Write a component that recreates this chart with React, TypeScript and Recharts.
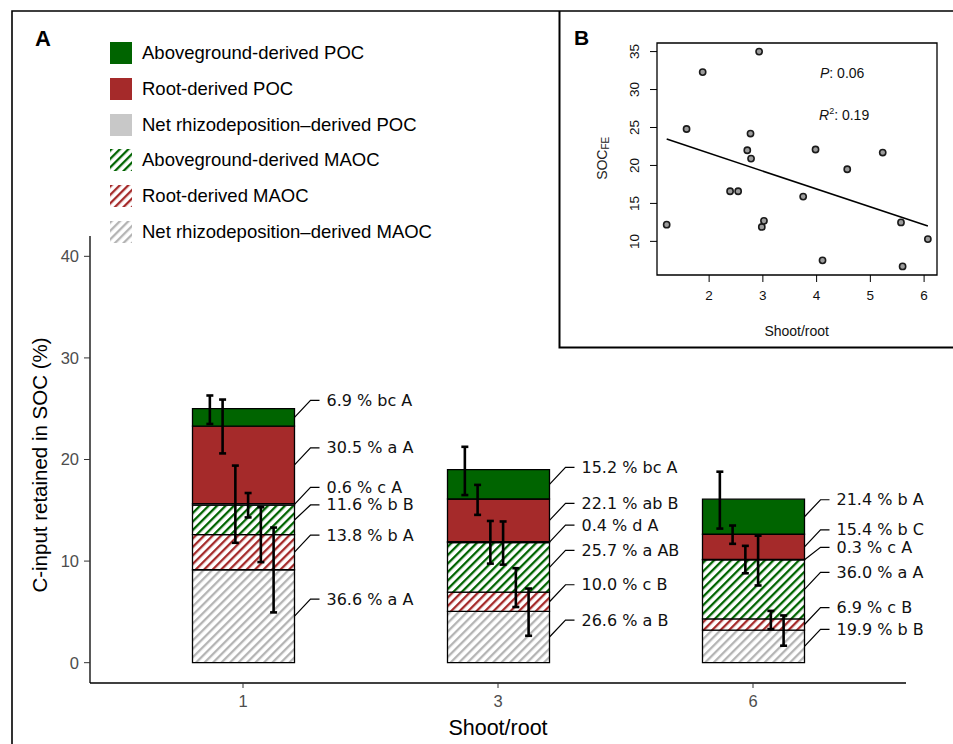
import React from "react";
import {
  ComposedChart,
  ScatterChart,
  Bar,
  Scatter,
  XAxis,
  YAxis,
  ErrorBar,
  LabelList,
  ReferenceLine,
  ReferenceArea,
} from "recharts";

// ── Panel A data ────────────────────────────────────────────────

const SHOOT_ROOT = ["1", "3", "6"];

// segment heights (% C-input retained), one value per shoot/root level
const ABOVE_POC = [1.72, 2.89, 3.45];
const ROOT_POC = [7.63, 4.2, 2.48];
const NET_RHIZO_POC = [0.15, 0.08, 0.05];
const ABOVE_MAOC = [2.9, 4.88, 5.8];
const ROOT_MAOC = [3.45, 1.9, 1.11];
const NET_RHIZO_MAOC = [9.15, 5.05, 3.2];

// share of total (%) and letters printed beside each segment
const ABOVE_POC_PCT = [6.9, 15.2, 21.4];
const ROOT_POC_PCT = [30.5, 22.1, 15.4];
const NET_RHIZO_POC_PCT = [0.6, 0.4, 0.3];
const ABOVE_MAOC_PCT = [11.6, 25.7, 36.0];
const ROOT_MAOC_PCT = [13.8, 10.0, 6.9];
const NET_RHIZO_MAOC_PCT = [36.6, 26.6, 19.9];

const ABOVE_POC_SIG = ["bc A", "bc A", "b A"];
const ROOT_POC_SIG = ["a A", "ab B", "b C"];
const NET_RHIZO_POC_SIG = ["c A", "d A", "c A"];
const ABOVE_MAOC_SIG = ["b B", "a AB", "a A"];
const ROOT_MAOC_SIG = ["b A", "c B", "c B"];
const NET_RHIZO_MAOC_SIG = ["a A", "a B", "b B"];

// error bar ends (low / high), on the stacked scale
const ABOVE_POC_LO = [23.5, 16.5, 13.2];
const ABOVE_POC_HI = [26.3, 21.25, 18.8];
const ROOT_POC_LO = [20.6, 14.55, 11.7];
const ROOT_POC_HI = [25.9, 17.5, 13.5];
const NET_RHIZO_POC_LO = [11.8, 9.75, 8.8];
const NET_RHIZO_POC_HI = [19.4, 13.95, 11.5];
const ABOVE_MAOC_LO = [14.3, 9.65, 7.6];
const ABOVE_MAOC_HI = [16.7, 13.9, 12.5];
const ROOT_MAOC_LO = [9.9, 5.48, 3.3];
const ROOT_MAOC_HI = [15.3, 9.3, 5.1];
const NET_RHIZO_MAOC_LO = [4.95, 2.65, 1.67];
const NET_RHIZO_MAOC_HI = [13.3, 7.3, 4.65];

const Y_TICKS = [0, 10, 20, 30, 40];

// ── Panel B data ────────────────────────────────────────────────

const SR_RATIO = [
  1.21, 1.58, 1.88, 2.93, 2.39, 2.54, 2.71, 2.77, 2.78, 2.98, 3.02, 3.75, 3.98,
  4.11, 4.57, 5.23, 5.57, 5.6, 6.07,
];
const SOC_FE = [
  12.2, 24.8, 32.3, 35.0, 16.6, 16.6, 22.0, 24.2, 20.9, 11.9, 12.7, 15.9, 22.1,
  7.5, 19.5, 21.7, 12.5, 6.7, 10.3,
];
const B_X_TICKS = [2, 3, 4, 5, 6];
const B_Y_TICKS = [10, 15, 20, 25, 30, 35];

// ── styling ─────────────────────────────────────────────────────

const GREEN = "#006400";
const RED = "#a52a2a";
const GREY = "#c8c8c8";
const ARIAL = "'Liberation Sans', Arial, sans-serif";
const VERDANA = "'DejaVu Sans', Verdana, sans-serif";

// stack order: bottom first
const SERIES = [
  { key: "netRhizoMaoc", name: "Net rhizodeposition–derived MAOC", values: NET_RHIZO_MAOC, pct: NET_RHIZO_MAOC_PCT, sig: NET_RHIZO_MAOC_SIG, lo: NET_RHIZO_MAOC_LO, hi: NET_RHIZO_MAOC_HI, fill: "url(#hatch-grey)" },
  { key: "rootMaoc", name: "Root-derived MAOC", values: ROOT_MAOC, pct: ROOT_MAOC_PCT, sig: ROOT_MAOC_SIG, lo: ROOT_MAOC_LO, hi: ROOT_MAOC_HI, fill: "url(#hatch-red)" },
  { key: "aboveMaoc", name: "Aboveground-derived MAOC", values: ABOVE_MAOC, pct: ABOVE_MAOC_PCT, sig: ABOVE_MAOC_SIG, lo: ABOVE_MAOC_LO, hi: ABOVE_MAOC_HI, fill: "url(#hatch-green)" },
  { key: "netRhizoPoc", name: "Net rhizodeposition–derived POC", values: NET_RHIZO_POC, pct: NET_RHIZO_POC_PCT, sig: NET_RHIZO_POC_SIG, lo: NET_RHIZO_POC_LO, hi: NET_RHIZO_POC_HI, fill: GREY },
  { key: "rootPoc", name: "Root-derived POC", values: ROOT_POC, pct: ROOT_POC_PCT, sig: ROOT_POC_SIG, lo: ROOT_POC_LO, hi: ROOT_POC_HI, fill: RED },
  { key: "abovePoc", name: "Aboveground-derived POC", values: ABOVE_POC, pct: ABOVE_POC_PCT, sig: ABOVE_POC_SIG, lo: ABOVE_POC_LO, hi: ABOVE_POC_HI, fill: GREEN },
];

// dodge of the error bars across the bar, leftmost = top segment
const ERR_SHIFT = [-0.13, -0.08, -0.03, 0.02, 0.07, 0.12];

const rows = SHOOT_ROOT.map((label, i) => {
  const r: Record<string, any> = { label, idx: i };
  SERIES.forEach((s) => (r[s.key] = s.values[i]));
  return r;
});

const errPoints = SERIES.flatMap((s, si) =>
  SHOOT_ROOT.map((_, i) => {
    const top = SERIES.slice(0, si + 1).reduce((a, t) => a + t.values[i], 0);
    return {
      x: i + 1 + ERR_SHIFT[SERIES.length - 1 - si],
      y: top,
      err: [top - s.lo[i], s.hi[i] - top],
    };
  })
);

const scatterPts = SR_RATIO.map((x, i) => ({ x, y: SOC_FE[i] }));

// least squares line through the panel B points
const n = SR_RATIO.length;
const mx = SR_RATIO.reduce((a, b) => a + b, 0) / n;
const my = SOC_FE.reduce((a, b) => a + b, 0) / n;
const slope =
  SR_RATIO.reduce((a, x, i) => a + (x - mx) * (SOC_FE[i] - my), 0) /
  SR_RATIO.reduce((a, x) => a + (x - mx) ** 2, 0);
const fit = (x: number) => my + slope * (x - mx);
const xLo = Math.min(...SR_RATIO);
const xHi = Math.max(...SR_RATIO);

// ── hatch patterns ──────────────────────────────────────────────

function Hatch({ id, color }: { id: string; color: string }) {
  return (
    <pattern id={id} width={6} height={6} patternUnits="userSpaceOnUse" patternTransform="rotate(45)">
      <rect width={6} height={6} fill="#fff" />
      <rect width={2.3} height={6} fill={color} />
    </pattern>
  );
}

function Patterns() {
  return (
    <svg width={0} height={0} style={{ position: "absolute" }}>
      <defs>
        <Hatch id="hatch-green" color={GREEN} />
        <Hatch id="hatch-red" color={RED} />
        <Hatch id="hatch-grey" color="#b4b4b4" />
      </defs>
    </svg>
  );
}

// ── labels with leader lines, drawn from the bottom segment ─────

function SegmentLabels(props: any) {
  const vb = props.viewBox && props.viewBox.width !== undefined ? props.viewBox : props;
  const x = Number(vb.x);
  const y = Number(vb.y);
  const w = Number(vb.width);
  const h = Number(vb.height);
  const i = Number(props.value ?? props.index ?? 0);
  const hh = Math.abs(h);
  const zero = Math.min(y, y + h) + hh;
  const unit = hh / SERIES[0].values[i];
  const right = x + w;

  let base = 0;
  const centres = SERIES.map((s) => {
    const c = zero - (base + s.values[i] / 2) * unit;
    base += s.values[i];
    return c;
  }).reverse();
  const texts = SERIES.map((s) => `${s.pct[i].toFixed(1)} % ${s.sig[i]}`).reverse();

  const ly: number[] = [];
  centres.forEach((c, k) => {
    const want = c - 17;
    ly.push(k === 0 ? want : Math.max(want, ly[k - 1] + 17.5));
  });

  return (
    <g>
      {centres.map((c, k) => (
        <g key={k}>
          <polyline
            points={`${right},${c} ${right + 16},${ly[k]} ${right + 25},${ly[k]}`}
            fill="none"
            stroke="#000"
            strokeWidth={1.2}
          />
          <text x={right + 32} y={ly[k]} dominantBaseline="central" fontFamily={VERDANA} fontSize={16} fill="#111">
            {texts[k]}
          </text>
        </g>
      ))}
    </g>
  );
}

function InsetYTick(props: any) {
  const { x, y, payload } = props;
  return (
    <text
      x={x}
      y={y}
      transform={`rotate(-90 ${x} ${y})`}
      textAnchor="middle"
      dominantBaseline="central"
      fontFamily={ARIAL}
      fontSize={13.5}
      fill="#111"
    >
      {payload.value}
    </text>
  );
}

const Dot = (p: any) => (
  <circle cx={p.cx} cy={p.cy} r={3.1} fill="#9c9c9c" stroke="#1a1a1a" strokeWidth={1.6} />
);

const LEGEND = [...SERIES].reverse();

export default function App() {
  return (
    <div style={{ position: "absolute", left: 0, top: 0, width: 953, height: 744, background: "#fff", fontFamily: ARIAL, overflow: "hidden" }}>
      <Patterns />

      <div style={{ position: "absolute", left: 0, top: 0 }}>
        <ComposedChart width={953} height={744} data={rows} margin={{ top: 236, right: 47, bottom: 31, left: 0 }}>
          <XAxis
            xAxisId="cat"
            dataKey="label"
            type="category"
            padding={{ left: 25.5, right: 25.5 }}
            height={30}
            axisLine={{ stroke: "#000", strokeWidth: 1.3 }}
            tickLine={{ stroke: "#333" }}
            tickSize={5}
            tickMargin={7}
            tick={{ fill: "#4d4d4d", fontSize: 16.5, fontFamily: ARIAL }}
          />
          <XAxis xAxisId="num" dataKey="x" type="number" domain={[0.4, 3.6]} allowDataOverflow hide />
          <YAxis
            type="number"
            domain={[-2, 42]}
            ticks={Y_TICKS}
            allowDataOverflow
            width={90}
            axisLine={{ stroke: "#000", strokeWidth: 1.3 }}
            tickLine={{ stroke: "#333" }}
            tickSize={6}
            tickMargin={5}
            tick={{ fill: "#4d4d4d", fontSize: 16.5, fontFamily: ARIAL }}
          />
          {SERIES.map((s, si) => (
            <Bar
              key={s.key}
              xAxisId="cat"
              dataKey={s.key}
              stackId="a"
              fill={s.fill}
              stroke="#000"
              strokeWidth={1.3}
              barSize={102}
              isAnimationActive={false}
            >
              {si === 0 && <LabelList dataKey="idx" content={SegmentLabels} />}
            </Bar>
          ))}
          <Scatter xAxisId="num" data={errPoints} dataKey="y" shape={() => <g />} isAnimationActive={false}>
            <ErrorBar dataKey="err" direction="y" width={3.5} stroke="#000" strokeWidth={2.6} isAnimationActive={false} />
          </Scatter>
        </ComposedChart>
      </div>

      {/* legend */}
      {LEGEND.map((s, k) => (
        <div key={s.key} style={{ position: "absolute", left: 110, top: 53 + k * 35.8 - 11, height: 22, display: "flex", alignItems: "center" }}>
          <svg width={22} height={22} style={{ display: "block" }}>
            <rect width={22} height={22} fill={s.fill} />
          </svg>
          <span style={{ marginLeft: 10, fontSize: 18.5, color: "#000", whiteSpace: "nowrap" }}>{s.name}</span>
        </div>
      ))}

      {/* panel B */}
      <div style={{ position: "absolute", left: 560, top: 11, width: 393, height: 337, background: "#fff" }}>
        <ScatterChart width={393} height={337} margin={{ top: 32, right: 16, bottom: 43, left: 0 }}>
          <XAxis
            type="number"
            dataKey="x"
            domain={[1.03, 6.24]}
            ticks={B_X_TICKS}
            allowDataOverflow
            height={30}
            axisLine={false}
            tickLine={{ stroke: "#000" }}
            tickSize={7}
            tickMargin={8}
            tick={{ fill: "#111", fontSize: 13.5, fontFamily: ARIAL }}
          />
          <YAxis
            type="number"
            dataKey="y"
            domain={[5.57, 36.13]}
            ticks={B_Y_TICKS}
            allowDataOverflow
            width={97}
            axisLine={false}
            tickLine={{ stroke: "#000" }}
            tickSize={7}
            tickMargin={15}
            tick={InsetYTick}
          />
          <ReferenceArea x1={1.03} x2={6.24} y1={5.57} y2={36.13} fill="none" stroke="#000" strokeWidth={1.3} ifOverflow="visible" />
          <ReferenceLine
            segment={[
              { x: xLo, y: fit(xLo) },
              { x: xHi, y: fit(xHi) },
            ]}
            stroke="#000"
            strokeWidth={1.6}
          />
          <Scatter data={scatterPts} shape={Dot} isAnimationActive={false} />
        </ScatterChart>
      </div>

      {/* titles, panel letters and frame */}
      <svg width={953} height={744} style={{ position: "absolute", left: 0, top: 0, pointerEvents: "none" }}>
        <polyline points="12,744 12,11 953,11" fill="none" stroke="#000" strokeWidth={1.6} />
        <polyline points="559.5,11 559.5,347.5 953,347.5" fill="none" stroke="#000" strokeWidth={2} />
        <text x={35} y={46} fontFamily={ARIAL} fontWeight="bold" fontSize={22}>A</text>
        <text x={574} y={45} fontFamily={ARIAL} fontWeight="bold" fontSize={21}>B</text>
        <text transform="translate(46.5,465) rotate(-90)" textAnchor="middle" fontFamily={ARIAL} fontSize={20.5} fill="#000">
          C-input retained in SOC (%)
        </text>
        <text x={498} y={734.5} textAnchor="middle" fontFamily={ARIAL} fontSize={21.5} fill="#000">
          Shoot/root
        </text>
        <text transform="translate(606.5,158.3) rotate(-90)" textAnchor="middle" fontFamily={ARIAL} fontSize={14} fill="#222">
          SOC<tspan fontSize={10} dy={2}>FE</tspan>
        </text>
        <text x={796.7} y={335.5} textAnchor="middle" fontFamily={ARIAL} fontSize={14} fill="#111">
          Shoot/root
        </text>
        <text x={820} y={77.7} fontFamily={ARIAL} fontSize={14} fill="#111">
          <tspan fontStyle="italic">P</tspan>: 0.06
        </text>
        <text x={819} y={120} fontFamily={ARIAL} fontSize={14} fill="#111">
          <tspan fontStyle="italic">R</tspan>
          <tspan fontSize={9} dy={-6}>2</tspan>
          <tspan dy={6}>: 0.19</tspan>
        </text>
      </svg>
    </div>
  );
}
